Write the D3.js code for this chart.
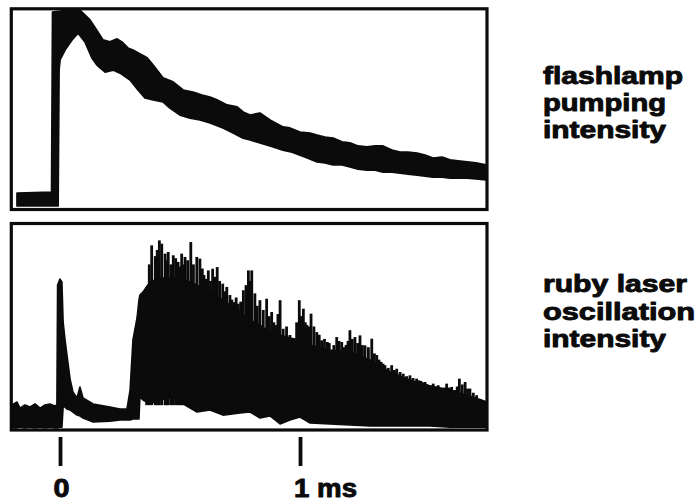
<!DOCTYPE html>
<html>
<head>
<meta charset="utf-8">
<script src="https://cdn.jsdelivr.net/npm/d3@7/dist/d3.min.js"></script>
<style>
  html, body { margin: 0; padding: 0; background: #fff; }
  svg { display: block; }
</style>
</head>
<body>
<script>
// ---- Flashlamp pumping intensity: the noisy trace is a band, upper and lower edge ----
const flashUpperTime = [-0.179, -0.035, -0.031, 0.000, 0.025, 0.083, 0.125, 0.158, 0.179, 0.208, 0.238, 0.258, 0.283, 0.304, 0.342, 0.363, 0.388, 0.429, 0.471, 0.513, 0.554, 0.592, 0.625, 0.654, 0.696, 0.738, 0.763, 0.792, 0.833, 0.875, 0.929, 0.958, 1.000, 1.042, 1.071, 1.104, 1.138, 1.175, 1.208, 1.242, 1.279, 1.313, 1.346, 1.383, 1.417, 1.450, 1.488, 1.521, 1.554, 1.592, 1.625, 1.658, 1.696, 1.733, 1.775];
const flashUpper     = [7.9, 8.4, 97.5, 98.0, 98.5, 98.5, 93.6, 87.6, 83.7, 82.7, 84.2, 82.7, 79.7, 78.7, 76.2, 74.8, 71.3, 64.9, 62.9, 58.9, 57.9, 56.4, 55.4, 54.0, 51.5, 50.5, 48.0, 46.5, 47.5, 44.1, 40.6, 40.1, 38.1, 37.6, 36.6, 35.6, 35.1, 33.2, 32.7, 31.2, 30.7, 31.2, 31.2, 29.2, 28.2, 28.2, 27.7, 26.7, 25.2, 25.7, 24.3, 23.8, 23.3, 22.8, 21.8];
const flashLowerTime = [-0.179, -0.008, -0.004, 0.000, 0.021, 0.050, 0.075, 0.104, 0.133, 0.154, 0.188, 0.221, 0.250, 0.292, 0.325, 0.354, 0.388, 0.429, 0.458, 0.500, 0.542, 0.583, 0.625, 0.679, 0.721, 0.763, 0.792, 0.833, 0.875, 0.929, 0.967, 1.000, 1.033, 1.071, 1.104, 1.138, 1.175, 1.208, 1.242, 1.279, 1.313, 1.346, 1.383, 1.417, 1.450, 1.488, 1.521, 1.554, 1.592, 1.625, 1.658, 1.696, 1.733, 1.775];
const flashLower     = [1.5, 1.5, 68.8, 73.8, 78.7, 83.7, 87.1, 82.7, 74.8, 71.3, 67.8, 68.8, 67.3, 63.9, 58.9, 55.0, 54.0, 53.0, 50.0, 46.5, 45.0, 44.1, 42.6, 40.1, 37.6, 35.1, 34.2, 32.7, 31.2, 29.2, 28.2, 26.7, 25.2, 23.3, 22.8, 21.8, 21.8, 20.8, 19.8, 19.3, 19.3, 18.3, 18.3, 17.8, 17.3, 16.8, 16.3, 15.8, 15.8, 15.3, 15.3, 15.3, 14.9, 14.4];

// ---- Ruby laser oscillation intensity: solid body of the trace ----
const laserTime  = [-0.200, -0.179, -0.167, -0.146, -0.125, -0.104, -0.083, -0.063, -0.042, -0.021, -0.013, -0.010, 0.000, 0.008, 0.013, 0.021, 0.029, 0.042, 0.054, 0.071, 0.083, 0.096, 0.138, 0.208, 0.250, 0.279, 0.292, 0.304, 0.321, 0.329, 0.333, 0.346, 0.375, 0.417, 0.471, 0.521, 0.571, 0.625, 0.679, 0.750, 0.792, 0.833, 0.875, 0.917, 0.958, 1.000, 1.042, 1.125, 1.208, 1.292, 1.375, 1.458, 1.542, 1.625, 1.708, 1.779];
const laserUpper = [12.1, 13.5, 10.6, 12.1, 11.1, 12.6, 10.6, 12.1, 12.6, 11.6, 12.1, 70.0, 72.9, 71.5, 52.2, 43.5, 36.2, 24.6, 18.4, 15.5, 20.8, 15.5, 12.6, 11.1, 10.1, 10.1, 19.3, 43.5, 54.1, 62.8, 65.2, 66.7, 71.5, 73.4, 73.4, 72.5, 70.0, 66.7, 62.8, 57.0, 53.1, 50.7, 47.3, 45.9, 44.4, 43.5, 41.1, 38.6, 37.7, 33.8, 28.0, 24.2, 21.3, 19.3, 16.4, 13.5];
const laserLower = [1.0, 1.0, 1.4, 1.0, 1.4, 1.0, 1.4, 1.0, 1.4, 1.0, 1.0, 1.0, 1.4, 1.4, 11.1, 11.1, 10.1, 9.7, 8.7, 7.2, 6.8, 5.8, 3.9, 4.3, 4.8, 4.8, 4.8, 5.3, 5.3, 5.3, 15.9, 14.5, 12.6, 14.5, 15.9, 12.1, 8.7, 9.7, 7.2, 8.2, 8.7, 5.8, 6.8, 2.9, 4.8, 6.3, 3.4, 2.9, 2.4, 1.9, 1.9, 1.9, 1.9, 1.4, 1.4, 1.4];

// ---- Oscillation spikes (time in ms, peak intensity): the tall ones ----
const majorSpikeTime = [0.361, 0.382, 0.414, 0.424, 0.438, 0.451, 0.472, 0.492, 0.507, 0.521, 0.545, 0.570, 0.583, 0.600, 0.618, 0.636, 0.655, 0.678, 0.695, 0.708, 0.725, 0.743, 0.764, 0.785, 0.799, 0.833, 0.861, 0.882, 0.900, 0.917, 0.930, 0.958, 0.975, 0.997, 1.014, 1.029, 1.046, 1.070, 1.090, 1.114, 1.129, 1.153, 1.174, 1.192, 1.208, 1.229, 1.250, 1.271, 1.299, 1.320, 1.338, 1.354, 1.382, 1.403, 1.417, 1.430, 1.458, 1.471, 1.486, 1.504, 1.521, 1.538, 1.555, 1.576, 1.592, 1.611, 1.632, 1.646, 1.664, 1.688, 1.708, 1.736, 1.764];
const majorSpikePeak = [69.1, 89.2, 91.6, 90.0, 85.2, 86.0, 84.4, 81.2, 85.2, 83.6, 90.8, 83.6, 82.8, 74.9, 77.1, 77.9, 78.7, 70.7, 69.1, 65.2, 61.8, 61.0, 67.5, 77.1, 77.1, 62.7, 63.4, 57.0, 50.7, 62.7, 48.9, 45.9, 43.5, 62.7, 58.6, 50.7, 56.2, 47.3, 43.3, 42.5, 38.6, 44.9, 42.5, 41.1, 48.2, 44.9, 45.7, 40.9, 44.1, 36.2, 32.9, 31.3, 31.3, 29.6, 28.0, 27.2, 26.4, 25.1, 24.8, 23.7, 23.2, 21.7, 22.4, 21.6, 20.3, 22.4, 20.8, 19.3, 24.8, 23.2, 20.0, 16.8, 13.5];
// ---- ... and the shorter ones packed in between ----
const minorSpikeTime = [0.372, 0.397, 0.405, 0.445, 0.462, 0.482, 0.500, 0.514, 0.532, 0.556, 0.593, 0.609, 0.627, 0.646, 0.665, 0.687, 0.716, 0.734, 0.753, 0.775, 0.792, 0.812, 0.822, 0.847, 0.872, 0.891, 0.908, 0.944, 0.986, 1.005, 1.022, 1.038, 1.058, 1.080, 1.102, 1.122, 1.141, 1.163, 1.183, 1.200, 1.218, 1.240, 1.260, 1.285, 1.310, 1.329, 1.346, 1.368, 1.393, 1.444, 1.495, 1.512, 1.530, 1.547, 1.566, 1.584, 1.602, 1.621, 1.655, 1.676, 1.698, 1.722, 1.750];
const minorSpikePeak = [80, 84, 87, 82, 80, 83, 79, 80, 82, 80, 78, 73, 72, 74, 72, 67, 63, 64, 62, 70, 72, 66, 60, 58, 55, 52, 56, 50, 52, 55, 52, 50, 50, 46, 44, 42, 41, 43, 40, 43, 44, 42, 41, 40, 37, 34, 32, 30, 29, 26, 24, 23, 22, 21.5, 21, 20.5, 20.5, 20.5, 21, 22, 20, 18, 15];
const spikeBase = 12;

// ---- Time axis ----
const tickValues = [0, 1];
const tickLabels = ["0", "1 ms"];

// ---- Trace captions ----
const flashlampCaption = ["flashlamp", "pumping", "intensity"];
const laserCaption = ["ruby laser", "oscillation", "intensity"];

const W = 697, H = 504;
const ink = "#0b0b0b";
const font = "'Liberation Sans', Arial, Helvetica, sans-serif";

const svg = d3.select("body").append("svg")
  .attr("width", W).attr("height", H)
  .attr("viewBox", `0 0 ${W} ${H}`);

// shared time scale (ms)
const x = d3.scaleLinear().domain([0, 1]).range([60, 300]);
// intensity scales, arbitrary units
const yTop = d3.scaleLinear().domain([0, 100]).range([209, 7]);
const yBot = d3.scaleLinear().domain([0, 100]).range([430, 223]);

const panelLeft = 11.3, panelRight = 487;

// ---------- upper panel: flashlamp ----------
// outline runs along the upper edge, then back along the lower edge
const upperPts = flashUpperTime.map((t, i) => [x(t), yTop(flashUpper[i])]);
const lowerPts = flashLowerTime.map((t, i) => [x(t), yTop(flashLower[i])]).reverse();
svg.append("path")
  .attr("d", d3.line()(upperPts.concat(lowerPts)) + "Z")
  .attr("fill", ink).attr("stroke", ink).attr("stroke-width", 1.8)
  .attr("stroke-linejoin", "round");

svg.append("rect")
  .attr("x", panelLeft).attr("y", 8.8)
  .attr("width", panelRight - panelLeft).attr("height", 209.5 - 8.8)
  .attr("fill", "none").attr("stroke", ink).attr("stroke-width", 3.2);

// ---------- lower panel: ruby laser ----------
const laserRows = laserTime.map((t, i) => ({ t, hi: laserUpper[i], lo: laserLower[i] }));
svg.append("path")
  .datum(laserRows)
  .attr("d", d3.area().x(d => x(d.t)).y0(d => yBot(d.lo)).y1(d => yBot(d.hi)))
  .attr("fill", ink).attr("stroke", ink).attr("stroke-width", 1.6)
  .attr("stroke-linejoin", "round");

const spikes = majorSpikeTime.map((t, i) => ({ t, v: majorSpikePeak[i] }))
  .concat(minorSpikeTime.map((t, i) => ({ t, v: minorSpikePeak[i] })));
svg.append("g")
  .selectAll("rect")
  .data(spikes)
  .join("rect")
  .attr("x", d => x(d.t) - 1.4)
  .attr("width", 2.8)
  .attr("y", d => yBot(d.v))
  .attr("height", d => Math.max(0, yBot(spikeBase) - yBot(d.v)))
  .attr("fill", ink);

svg.append("rect")
  .attr("x", panelLeft).attr("y", 223.5)
  .attr("width", panelRight - panelLeft).attr("height", 430 - 223.5)
  .attr("fill", "none").attr("stroke", ink).attr("stroke-width", 3.2);

// ---------- time markers ----------
const axis = d3.axisBottom(x).tickValues(tickValues).tickSize(29).tickFormat("");
const ax = svg.append("g").attr("transform", "translate(0,437)").call(axis);
ax.select(".domain").remove();
ax.selectAll(".tick line").attr("stroke", ink).attr("stroke-width", 3.8);

const labelShift = [1.5, -6];
const labelAnchor = ["middle", "start"];
const labelWidth = [16, 63];
svg.append("g")
  .selectAll("text")
  .data(tickLabels)
  .join("text")
  .attr("x", (d, i) => x(tickValues[i]) + labelShift[i])
  .attr("y", 497)
  .attr("text-anchor", (d, i) => labelAnchor[i])
  .attr("textLength", (d, i) => labelWidth[i])
  .attr("lengthAdjust", "spacingAndGlyphs")
  .attr("font-family", font).attr("font-weight", "bold")
  .attr("font-size", 25).attr("fill", ink)
  .attr("stroke", ink).attr("stroke-width", 0.9).attr("stroke-linejoin", "round")
  .text(d => d);

// ---------- captions ----------
function caption(lines, widths, baseline0, step) {
  svg.append("g")
    .selectAll("text")
    .data(lines)
    .join("text")
    .attr("x", 543)
    .attr("y", (d, i) => baseline0 + i * step)
    .attr("textLength", (d, i) => widths[i])
    .attr("lengthAdjust", "spacingAndGlyphs")
    .attr("font-family", font).attr("font-weight", "bold")
    .attr("font-size", 23).attr("fill", ink)
    .attr("stroke", ink).attr("stroke-width", 0.9).attr("stroke-linejoin", "round")
    .text(d => d);
}
caption(flashlampCaption, [140, 123, 123], 84, 27);
caption(laserCaption, [144, 152, 123], 292, 27.5);
</script>
</body>
</html>
